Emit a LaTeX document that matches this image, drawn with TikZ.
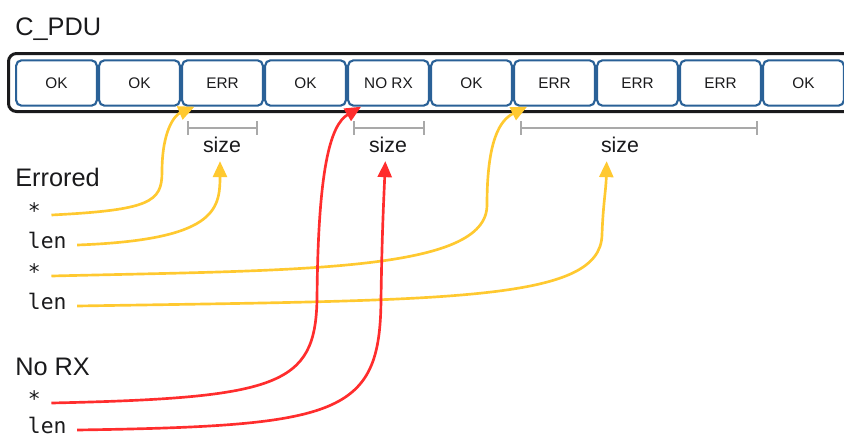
\documentclass[tikz,border=0pt]{standalone}
\usepackage{fontspec}
\setmainfont{Liberation Sans}
\setmonofont{DejaVu Sans Mono}
\usetikzlibrary{arrows.meta, positioning, calc}
\definecolor{cellblue}{HTML}{2A6197}
\definecolor{errored} {HTML}{FFC930}
\definecolor{norx}    {HTML}{FF2D2D}
\definecolor{bracket} {HTML}{A9A9A9}
\definecolor{ink}     {HTML}{1A1A1C}

\begin{document}
\begin{tikzpicture}[x=0.75pt, y=-0.75pt,
    pdu/.style={draw=cellblue, line width=1.6pt, rounded corners=4pt,
      minimum width=60.5pt, minimum height=34pt, inner sep=0pt, text=ink,
      font=\fontsize{11.5}{13}\selectfont},
    heading/.style={anchor=base west, inner sep=0pt, text=ink,
      font=\fontsize{19}{22}\selectfont},
    field/.style={anchor=base west, inner xsep=0pt, outer xsep=8pt, inner ysep=0pt,
      text height=4.5pt, text depth=0pt, text=ink,
      font=\ttfamily\fontsize{16}{18}\selectfont},
    sizelabel/.style={anchor=base, inner sep=0pt, text=ink,
      font=\fontsize{16}{18}\selectfont},
    sizebar/.style={draw=bracket, line width=1.6pt, {Bar[width=10pt]}-{Bar[width=10pt]}},
    link/.style={line width=2pt, -{Triangle[length=12pt, width=10.5pt]}}]
    \useasboundingbox (0,0) rectangle (844,437);
    \node[heading] (pdu) at (15,35) {C\_PDU};
    \draw[ink, line width=2.25pt, rounded corners=6pt] (8.5,53.5) rectangle (880,111.5);
    \foreach \t [count=\i] in {OK, OK, ERR, OK, NO RX, OK, ERR, ERR, ERR, OK}
      \node[pdu] (c\i) at (-26.5+83*\i, 83) {\t};
    % size brackets
    \draw[sizebar] (187,128) -- (258,128);
    \draw[sizebar] (353,128) -- (425,128);
    \draw[sizebar] (520,128) -- (758,128);
    \node[sizelabel] (size1) at (222,152) {size};
    \node[sizelabel] (size2) at (388,152) {size};
    \node[sizelabel] (size3) at (620,152) {size};
    % fields
    \node[heading] (err) at (15,186) {Errored};
    \node[field] (errPtr)  at (17.3,218) {*};
    \node[field] (errLen)  at (17.3,248) {len};
    \node[field] (errPtrB) at (17.3,279) {*};
    \node[field] (errLenB) at (17.3,309) {len};
    \node[heading] (rx) at (15,375) {No RX};
    \node[field] (rxPtr) at (17.3,406) {*};
    \node[field] (rxLen) at (17.3,433) {len};
    % links
    \draw[link, errored] (errPtr.east) .. controls (150,210) and (162,202) .. (162,172)
      .. controls (162,130) and (175,115) .. ([xshift=10pt]c3.south west);
    \draw[link, errored] (errLen.east) .. controls (215,240) and (220,210) .. ([xshift=-1.5pt, yshift=-6.5pt]size1.south);
    \draw[link, errored] (errPtrB.east) .. controls (300,270) and (487,272) .. (487,205)
      .. controls (487,140) and (500,120) .. ([xshift=10.5pt]c7.south west);
    \draw[link, errored] (errLenB.east) .. controls (450,300) and (600,302) .. (602,235)
      .. controls (603,205) and (606,190) .. ([xshift=-10pt, yshift=-6.5pt]size3.south);
    \draw[link, norx] (rxPtr.east) .. controls (280,398) and (315,385) .. (317,300)
      .. controls (318,170) and (330,125) .. ([xshift=10.5pt]c5.south west);
    \draw[link, norx] (rxLen.east) .. controls (340,426) and (380,415) .. (381,300)
      .. controls (382,230) and (384,195) .. ([xshift=-2pt, yshift=-6.5pt]size2.south);
  \end{tikzpicture}
\end{document}
